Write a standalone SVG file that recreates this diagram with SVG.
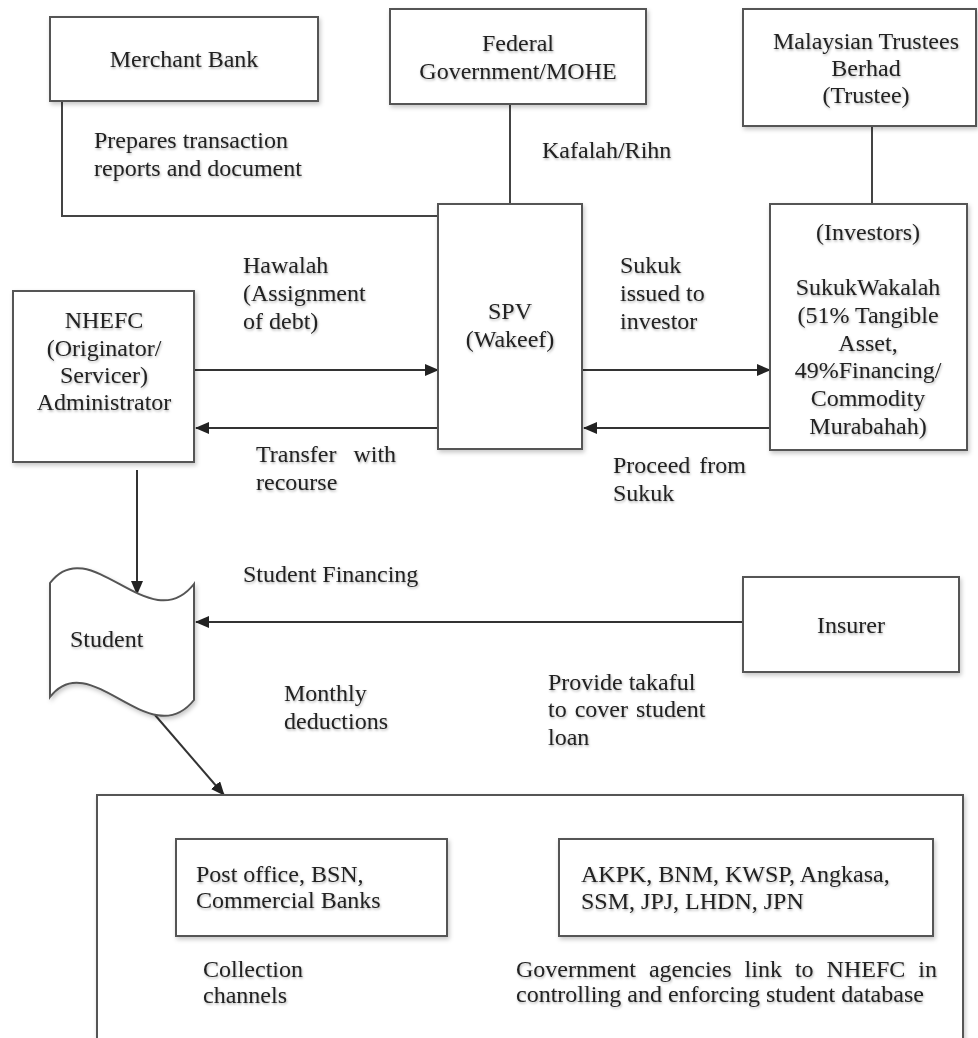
<svg xmlns="http://www.w3.org/2000/svg" width="978" height="1038" viewBox="0 0 978 1038">
  <defs>
    <filter id="sh" x="-10%" y="-10%" width="130%" height="130%">
      <feDropShadow dx="1.5" dy="2.5" stdDeviation="2" flood-color="#000" flood-opacity="0.22"/>
    </filter>
    <filter id="tsh" x="-5%" y="-20%" width="115%" height="160%">
      <feDropShadow dx="0.8" dy="1.5" stdDeviation="1.2" flood-color="#000" flood-opacity="0.3"/>
    </filter>
    <marker id="arr" viewBox="0 0 14 12" refX="13" refY="6" markerWidth="14" markerHeight="12" markerUnits="userSpaceOnUse" orient="auto">
      <path d="M0,0 L14,6 L0,12 Z" fill="#222"/>
    </marker>
  </defs>
  <style>
    .box { fill: #fff; stroke: #555; stroke-width: 2; filter: url(#sh); }
    .ln { fill: none; stroke: #444; stroke-width: 2; }
    .ar { fill: none; stroke: #333; stroke-width: 2; marker-end: url(#arr); }
    text { font-family: "Liberation Serif", "Times New Roman", serif; font-size: 24px; fill: #222; filter: url(#tsh); }
    .c { text-anchor: middle; }
  </style>
  <rect width="978" height="1038" fill="#fff"/>

  <g id="connectors">
    <path class="ln" d="M62,101 L62,216 L438,216"/>
    <path class="ln" d="M510,104 L510,204"/>
    <path class="ln" d="M872,116 L872,204"/>
    <path class="ar" d="M194,370 L438,370"/>
    <path class="ar" d="M438,428 L196,428"/>
    <path class="ar" d="M582,370 L770,370"/>
    <path class="ar" d="M770,428 L584,428"/>
    <path class="ar" d="M137,470 L137,594"/>
    <path class="ar" d="M743,622 L196,622"/>
    <path class="ar" d="M155,715 L224,795"/>
  </g>

  <g id="merchant-bank">
    <rect class="box" x="50" y="17" width="268" height="84"/>
    <text class="c" x="184" y="67">Merchant Bank</text>
  </g>

  <g id="federal-government">
    <rect class="box" x="390" y="9" width="256" height="95"/>
    <text class="c" x="518" y="51">Federal</text>
    <text class="c" x="518" y="79">Government/MOHE</text>
  </g>

  <g id="trustee">
    <rect class="box" x="743" y="9" width="233" height="117"/>
    <text class="c" x="866" y="49">Malaysian Trustees</text>
    <text class="c" x="866" y="76">Berhad</text>
    <text class="c" x="866" y="103">(Trustee)</text>
  </g>

  <g id="nhefc">
    <rect class="box" x="13" y="291" width="181" height="171"/>
    <text class="c" x="104" y="328">NHEFC</text>
    <text class="c" x="104" y="356">(Originator/</text>
    <text class="c" x="104" y="383">Servicer)</text>
    <text class="c" x="104" y="410">Administrator</text>
  </g>

  <g id="spv">
    <rect class="box" x="438" y="204" width="144" height="245"/>
    <text class="c" x="510" y="319">SPV</text>
    <text class="c" x="510" y="347">(Wakeef)</text>
  </g>

  <g id="investors">
    <rect class="box" x="770" y="204" width="197" height="246"/>
    <text class="c" x="868" y="240">(Investors)</text>
    <text class="c" x="868" y="295">SukukWakalah</text>
    <text class="c" x="868" y="323">(51% Tangible</text>
    <text class="c" x="868" y="351">Asset,</text>
    <text class="c" x="868" y="378">49%Financing/</text>
    <text class="c" x="868" y="406">Commodity</text>
    <text class="c" x="868" y="434">Murabahah)</text>
  </g>

  <g id="student">
    <path class="box" d="M50,583 C90,530 150,640 194,584 L194,700 C150,755 90,645 50,697 Z"/>
    <text x="70" y="647">Student</text>
  </g>

  <g id="insurer">
    <rect class="box" x="743" y="577" width="216" height="95"/>
    <text class="c" x="851" y="633">Insurer</text>
  </g>

  <g id="collection-group">
    <path class="box" d="M97,1045 L97,795 L963,795 L963,1045"/>
  </g>

  <g id="collection-channels">
    <rect class="box" x="176" y="839" width="271" height="97"/>
    <text x="196" y="882">Post office, BSN,</text>
    <text x="196" y="908">Commercial Banks</text>
  </g>

  <g id="government-agencies">
    <rect class="box" x="559" y="839" width="374" height="97"/>
    <text x="581" y="882">AKPK, BNM, KWSP, Angkasa,</text>
    <text x="581" y="909">SSM, JPJ, LHDN, JPN</text>
  </g>

  <g id="labels">
    <text x="94" y="148">Prepares transaction</text>
    <text x="94" y="176">reports and document</text>
    <text x="542" y="158">Kafalah/Rihn</text>
    <text x="243" y="273">Hawalah</text>
    <text x="243" y="301">(Assignment</text>
    <text x="243" y="329">of debt)</text>
    <text x="256" y="462" word-spacing="11">Transfer with</text>
    <text x="256" y="490">recourse</text>
    <text x="620" y="273">Sukuk</text>
    <text x="620" y="301">issued to</text>
    <text x="620" y="329">investor</text>
    <text x="613" y="473" word-spacing="3">Proceed from</text>
    <text x="613" y="501">Sukuk</text>
    <text x="243" y="582">Student Financing</text>
    <text x="284" y="701">Monthly</text>
    <text x="284" y="729">deductions</text>
    <text x="548" y="690">Provide takaful</text>
    <text x="548" y="717" word-spacing="2">to cover student</text>
    <text x="548" y="745">loan</text>
    <text x="203" y="977">Collection</text>
    <text x="203" y="1003">channels</text>
    <text x="516" y="977" word-spacing="7">Government agencies link to NHEFC in</text>
    <text x="516" y="1002">controlling and enforcing student database</text>
  </g>
</svg>
